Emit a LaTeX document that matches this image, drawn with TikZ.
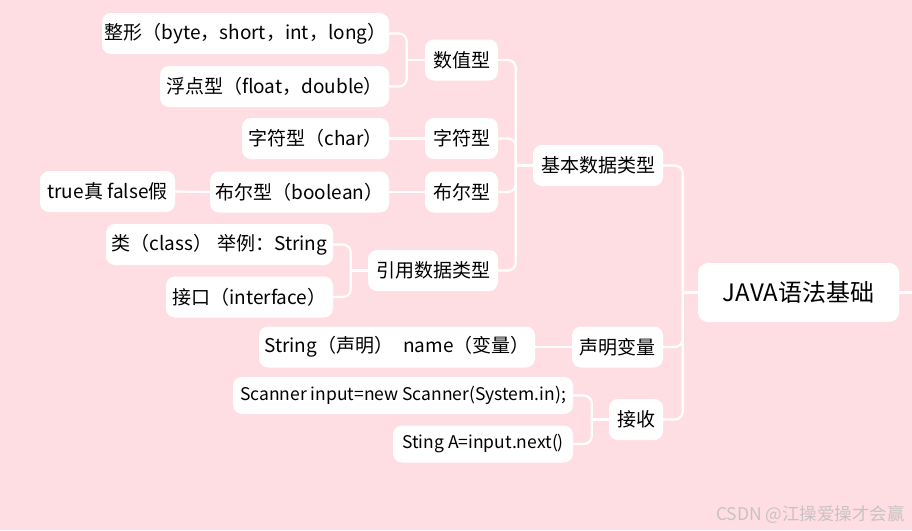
\documentclass[tikz,border=0pt]{standalone}
\usepackage{fontspec}
\setmainfont{Noto Sans CJK SC}
\usetikzlibrary{calc}
\definecolor{bg}{RGB}{255,222,227}
\definecolor{wmgray}{RGB}{200,194,196}
\begin{document}
\begin{tikzpicture}[x=1pt,y=-1pt,
  box/.style={fill=white, rounded corners=9pt, inner sep=0pt, minimum height=41pt,
    font=\fontsize{19pt}{22pt}\selectfont, text=black},
  codebox/.style={box, minimum height=37pt, font=\fontsize{17.5pt}{21pt}\selectfont},
  conn/.style={draw=white, line width=2.2pt, rounded corners=8pt}]
\fill[bg] (0,0) rectangle (912,530);
\useasboundingbox (0,0) rectangle (912,530);

% root
\node[box, minimum width=201pt, minimum height=59pt, rounded corners=10pt,
  font=\fontsize{24pt}{28pt}\selectfont] (java) at (798.5,292.5) {JAVA语法基础};

% level 1
\node[box, minimum width=130pt] (jiben) at (598,165.5) {基本数据类型};
\node[box, minimum width=91pt] (shengming) at (617.5,347) {声明变量};
\node[box, minimum width=54pt] (jieshou) at (636,419.5) {接收};

% level 2
\node[box, minimum width=73pt] (shuzhi) at (461.5,60) {数值型};
\node[box, minimum width=73pt] (zifu) at (461.5,138.5) {字符型};
\node[box, minimum width=73pt] (buer) at (461.5,192) {布尔型};
\node[box, minimum width=130pt] (yinyong) at (433,270.5) {引用数据类型};
\node[box, minimum width=276pt] (strnode) at (397,347) {String（声明）\hspace{10pt}name（变量）};
\node[codebox, minimum width=340pt] (scanner) at (403,395.5) {Scanner input=new Scanner(System.in);};
\node[codebox, minimum width=180pt] (sting) at (483,444) {Sting A=input.next()};

% level 3
\node[box, minimum width=287pt] (zhengxing) at (245.5,33.5) {整形（byte，short，int，long）};
\node[box, minimum width=229pt] (fudian) at (274.5,86.5) {浮点型（float，double）};
\node[box, minimum width=147pt] (charnode) at (315.5,138.5) {字符型（char）};
\node[box, minimum width=179pt] (boolnode) at (299.5,192) {布尔型（boolean）};
\node[box, minimum width=227pt] (classnode) at (219.5,244.5) {类（class）\hspace{5pt}举例：String};
\node[box, minimum width=167pt] (interface) at (249.5,297) {接口（interface）};

% level 4
\node[box, minimum width=135pt] (truefalse) at (107.5,191.5) {true真 false假};

% buses
\coordinate (b0) at ($(java.west)+(-15,0)$);
\coordinate (b1) at ($(jiben.west)+(-17,0)$);
\coordinate (b2) at ($(shuzhi.west)+(-18,0)$);
\coordinate (b3) at ($(yinyong.west)+(-17,0)$);
\coordinate (b4) at ($(jieshou.west)+(-17,0)$);
\coordinate (redge) at (912,292.5);

\draw[conn] (java.east) -- (redge);

\draw[conn] (java.west) -- (b0);
\draw[conn] (b0) |- (jiben.east);
\draw[conn] (b0) |- (shengming.east);
\draw[conn] (b0) |- (jieshou.east);

\draw[conn] (jiben.west) -- (b1);
\draw[conn] (b1) |- (shuzhi.east);
\draw[conn] (b1) |- (zifu.east);
\draw[conn] (b1) |- (buer.east);
\draw[conn] (b1) |- (yinyong.east);

\draw[conn] (shuzhi.west) -- (b2);
\draw[conn] (b2) |- (zhengxing.east);
\draw[conn] (b2) |- (fudian.east);

\draw[conn] (yinyong.west) -- (b3);
\draw[conn] (b3) |- (classnode.east);
\draw[conn] (b3) |- (interface.east);

\draw[conn] (jieshou.west) -- (b4);
\draw[conn] (b4) |- (scanner.east);
\draw[conn] (b4) |- (sting.east);

\draw[conn] (zifu.west) -- (charnode.east);
\draw[conn] (buer.west) -- (boolnode.east);
\draw[conn] (boolnode.west) -- (truefalse.east);
\draw[conn] (shengming.west) -- (strnode.east);

% watermark
\node[text=wmgray, inner sep=0pt, anchor=east, font=\fontsize{17.5pt}{20pt}\selectfont] (wm) at (905,515) {CSDN @江操爱操才会赢};
\end{tikzpicture}
\end{document}
